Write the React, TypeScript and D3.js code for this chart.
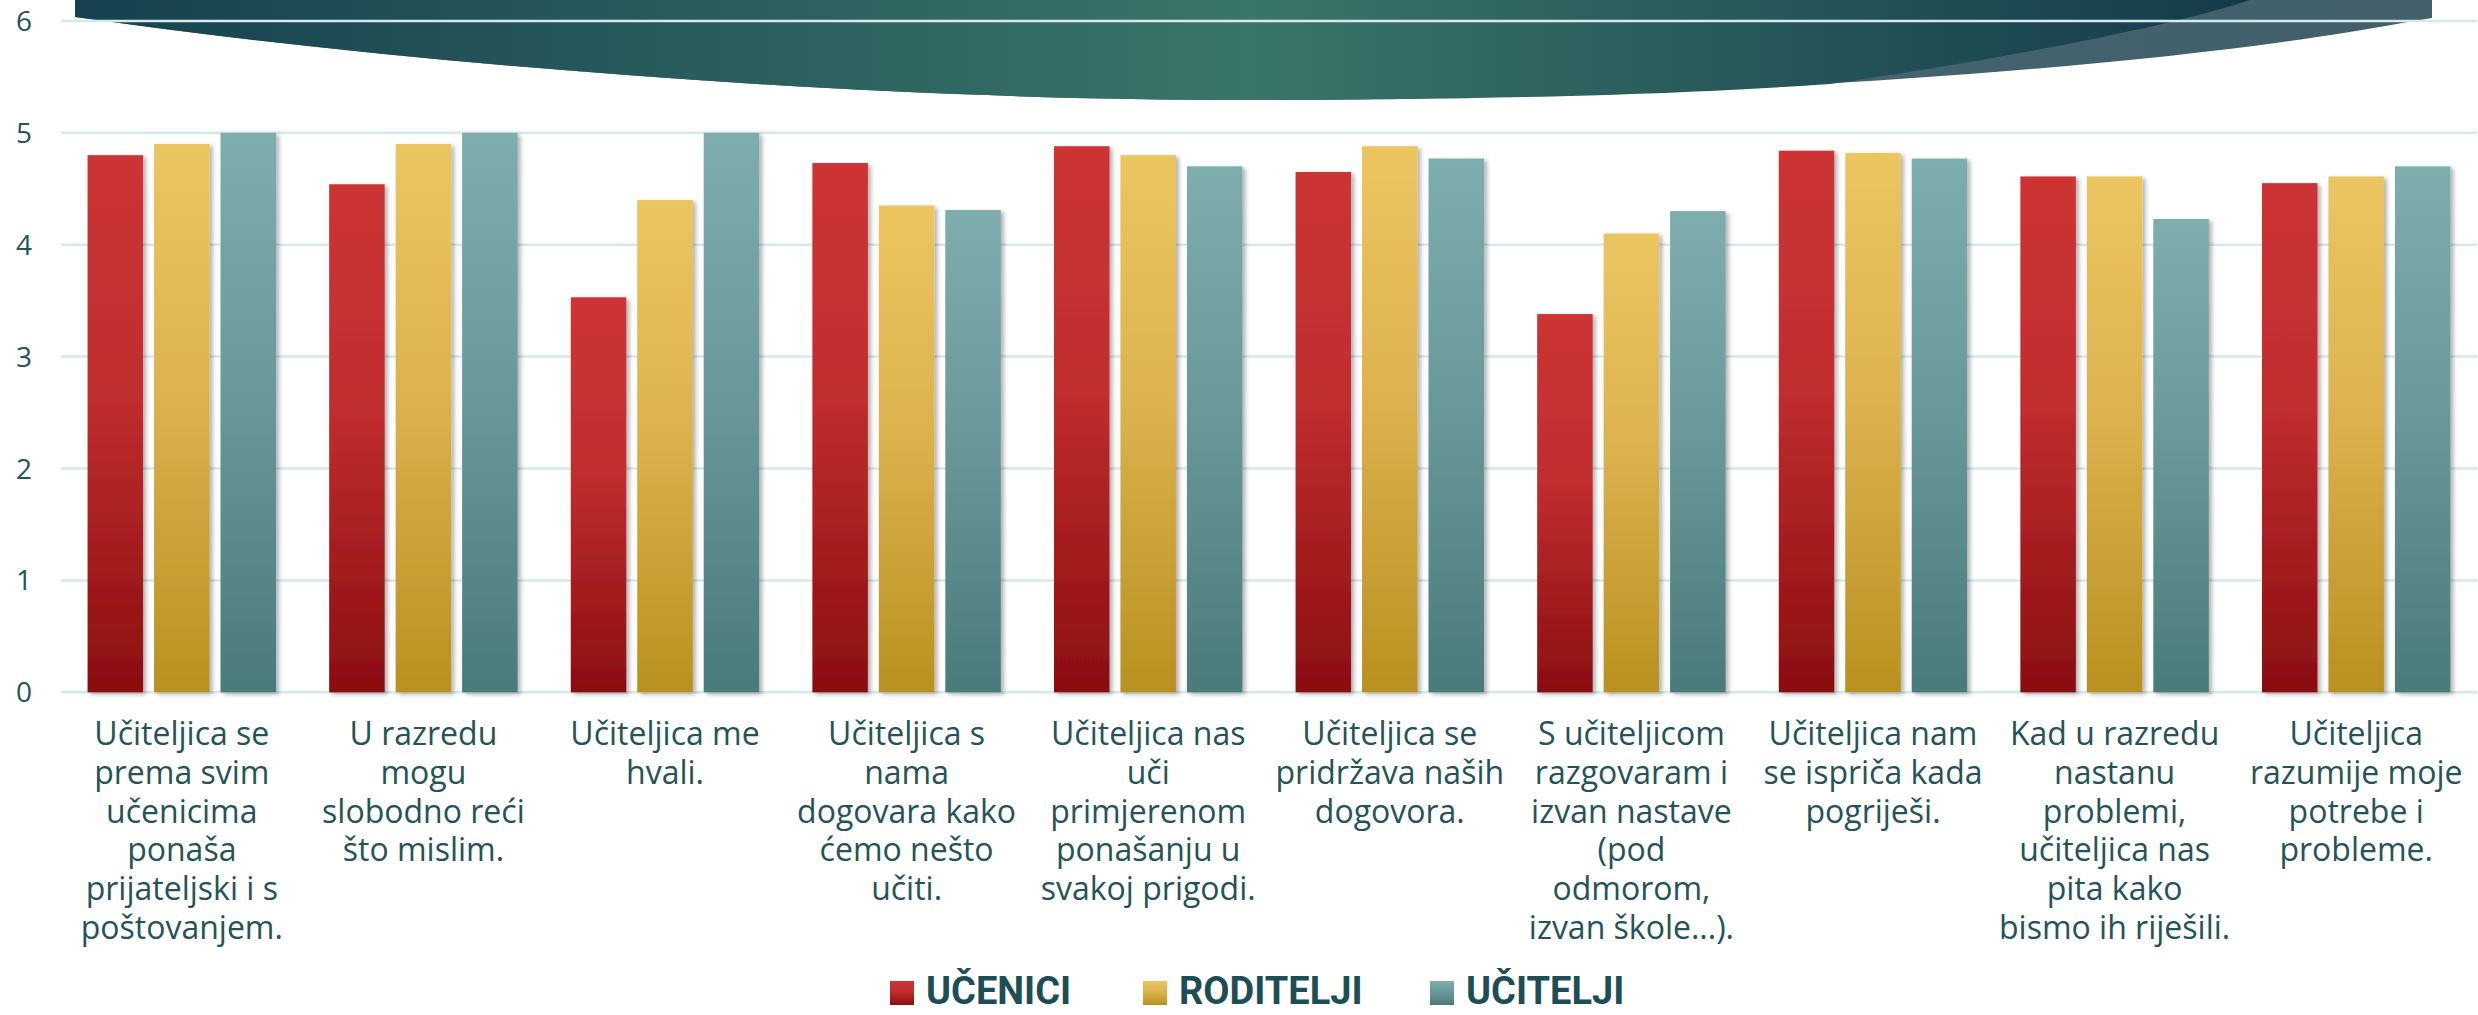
import React from 'react';
import * as d3 from 'd3';

const categories: string[][] = [
    ['Učiteljica se', 'prema svim', 'učenicima', 'ponaša', 'prijateljski i s', 'poštovanjem.'],
    ['U razredu', 'mogu', 'slobodno reći', 'što mislim.'],
    ['Učiteljica me', 'hvali.'],
    ['Učiteljica s', 'nama', 'dogovara kako', 'ćemo nešto', 'učiti.'],
    ['Učiteljica nas', 'uči', 'primjerenom', 'ponašanju u', 'svakoj prigodi.'],
    ['Učiteljica se', 'pridržava naših', 'dogovora.'],
    ['S učiteljicom', 'razgovaram i', 'izvan nastave', '(pod', 'odmorom,', 'izvan škole...).'],
    ['Učiteljica nam', 'se ispriča kada', 'pogriješi.'],
    ['Kad u razredu', 'nastanu', 'problemi,', 'učiteljica nas', 'pita kako', 'bismo ih riješili.'],
    ['Učiteljica', 'razumije moje', 'potrebe i', 'probleme.'],
];

const seriesNames = ['UČENICI', 'RODITELJI', 'UČITELJI'];

const ucenici = [4.8, 4.54, 3.53, 4.73, 4.88, 4.65, 3.38, 4.84, 4.61, 4.55];
const roditelji = [4.9, 4.9, 4.4, 4.35, 4.8, 4.88, 4.1, 4.82, 4.61, 4.61];
const ucitelji = [5.0, 5.0, 5.0, 4.31, 4.7, 4.77, 4.3, 4.77, 4.23, 4.7];

const yTicks = [0, 1, 2, 3, 4, 5, 6];

const W = 2478;
const H = 1015;
const plot = { left: 61, right: 2477, top: 20.9, bottom: 692.3 };

// gradient stops per series: [top, mid, bottom]
const barColors = [
    ['#cd3434', '#c02d2e', '#8b0e10'],
    ['#ebc660', '#dcb34f', '#b9911f'],
    ['#7eadad', '#6a9999', '#4a7b7b'],
];

const textColor = '#245459';
const font = '"Open Sans", sans-serif';

export default function App() {
    const series = [ucenici, roditelji, ucitelji];
    const idx = d3.range(categories.length);

    const x0 = d3.scaleBand<number>()
        .domain(idx)
        .range([plot.left, plot.right])
        .paddingInner(0.22)
        .paddingOuter(0.11);

    const x1 = d3.scaleBand<number>()
        .domain([0, 1, 2])
        .range([0, x0.bandwidth()])
        .paddingInner(0.165);

    const y = d3.scaleLinear().domain([0, 6]).range([plot.bottom, plot.top]);

    const legendX = [890, 1143, 1430];

    return (
        <svg width={W} height={H} style={{ position: 'absolute', left: 0, top: 0, background: '#fff' }}>
            <defs>
                <linearGradient id="hdr" gradientUnits="userSpaceOnUse" x1={75} x2={2250} y1={0} y2={0}>
                    <stop offset="0" stopColor="#16404e" />
                    <stop offset="0.54" stopColor="#3a756a" />
                    <stop offset="1" stopColor="#143b4a" />
                </linearGradient>
                <linearGradient id="hdr2" x1="0" x2="1" y1="0" y2="0">
                    <stop offset="0" stopColor="#4a7078" />
                    <stop offset="1" stopColor="#425f6a" />
                </linearGradient>
                {barColors.map((c, i) => (
                    <linearGradient key={i} id={`bar${i}`} x1="0" x2="0" y1="0" y2="1">
                        <stop offset="0" stopColor={c[0]} />
                        <stop offset="0.45" stopColor={c[1]} />
                        <stop offset="1" stopColor={c[2]} />
                    </linearGradient>
                ))}
                <filter id="shadow" x="-20%" y="-5%" width="140%" height="110%">
                    <feDropShadow dx="3" dy="2" stdDeviation="2" floodColor="#000" floodOpacity="0.3" />
                </filter>
            </defs>

            {/* decorative header band */}
            <path
                d="M75,0 L75,17 C450,70 900,100 1240,100 C1700,100 2150,70 2408,22 L2432,18 L2432,0 Z"
                fill="url(#hdr2)"
            />
            <path
                d="M75,0 L75,17 C450,70 900,100 1240,100 C1520,100 1700,93 1830,84 C1980,62 2160,30 2250,0 Z"
                fill="url(#hdr)"
            />

            {/* gridlines */}
            {yTicks.map(t => (
                <line key={t} x1={plot.left} x2={plot.right} y1={y(t)} y2={y(t)} stroke="#d3eaee" strokeWidth={2.5} />
            ))}

            {/* y labels */}
            {yTicks.map(t => (
                <text key={t} x={24} y={y(t)} dy="0.36em" textAnchor="middle" fontFamily={font} fontSize={28} fill={textColor}>
                    {t}
                </text>
            ))}

            {/* bars */}
            {idx.map(i => (
                <g key={i} transform={`translate(${x0(i)},0)`}>
                    {series.map((s, j) => (
                        <rect
                            key={j}
                            x={x1(j)}
                            y={y(s[i])}
                            width={x1.bandwidth()}
                            height={y(0) - y(s[i])}
                            fill={`url(#bar${j})`}
                            filter="url(#shadow)"
                        />
                    ))}
                </g>
            ))}

            {/* category labels */}
            {categories.map((lines, i) => (
                <text key={i} fontFamily={font} fontSize={32} fill={textColor} textAnchor="middle">
                    {lines.map((l, k) => (
                        <tspan key={k} x={(x0(i) as number) + x0.bandwidth() / 2} y={745 + k * 38.8}>
                            {l}
                        </tspan>
                    ))}
                </text>
            ))}

            {/* legend */}
            {seriesNames.map((n, j) => (
                <g key={n}>
                    <rect x={legendX[j]} y={981} width={24} height={24} fill={`url(#bar${j})`} />
                    <text x={legendX[j] + 36} y={1004} fontFamily='Roboto, "Open Sans", sans-serif' fontWeight="bold" fontSize={38} fill="#1d4e55">
                        {n}
                    </text>
                </g>
            ))}
        </svg>
    );
}
